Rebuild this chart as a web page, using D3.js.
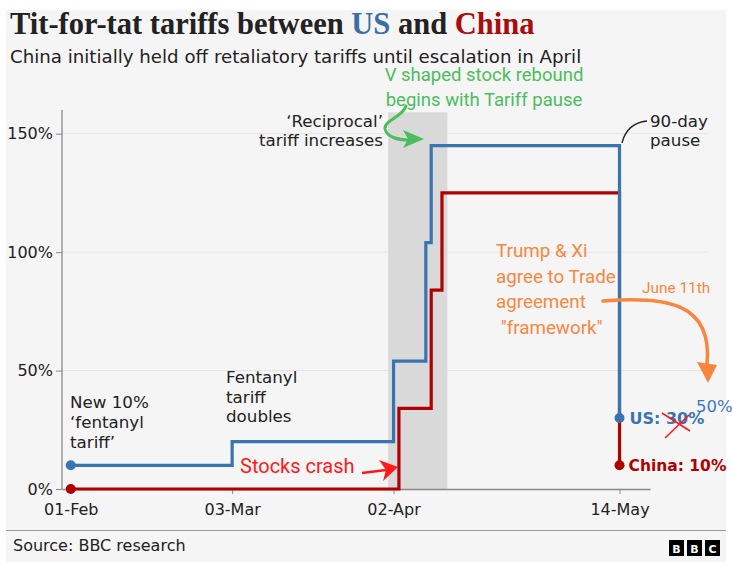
<!DOCTYPE html>
<html>
<head>
<meta charset="utf-8">
<script src="https://cdn.jsdelivr.net/npm/d3@7"></script>
<style>
  html, body { margin: 0; padding: 0; background: #fff; }
  svg { display: block; }
  text { font-family: "DejaVu Sans", sans-serif; fill: #222; }
  .hand { font-family: Roboto, sans-serif; }
</style>
</head>
<body>
<div id="chart"></div>
<script>
// US vs China tariff step lines, BBC style, with hand-drawn notes on top.

const usDates = ['2025-02-01', '2025-03-03', '2025-04-02', '2025-04-08', '2025-04-09', '2025-05-14'];
const usRates = [10, 20, 54, 104, 145, 30];
const cnDates = ['2025-02-01', '2025-04-03', '2025-04-09', '2025-04-11', '2025-05-14'];
const cnRates = [0, 34, 84, 125, 10];
const tickDates = ['2025-02-01', '2025-03-03', '2025-04-02', '2025-05-14'];
const tickRates = [0, 50, 100, 150];
const bandDates = ['2025-04-01', '2025-04-12'];

const BLUE = '#3a74b0';
const RED = '#b00000';
const ORANGE = '#f7873f';
const GREEN = '#4cbd5e';

const parse = d3.utcParse('%Y-%m-%d');
const us = usDates.map((d, i) => ({ date: parse(d), v: usRates[i] }));
const cn = cnDates.map((d, i) => ({ date: parse(d), v: cnRates[i] }));

const W = 732, H = 566;
const svg = d3.select('#chart').append('svg').attr('width', W).attr('height', H);

// grey panel + title block
svg.append('rect').attr('x', 6).attr('y', 10).attr('width', 720).attr('height', 552).attr('fill', '#f5f5f5');

const title = svg.append('text').attr('x', 10).attr('y', 34)
  .style('font-family', '"Liberation Serif", serif').style('font-weight', 'bold').style('font-size', '30.5px');
title.append('tspan').text('Tit-for-tat tariffs between ');
title.append('tspan').style('fill', '#3a6ea8').text('US');
title.append('tspan').text(' and ');
title.append('tspan').style('fill', '#a80c0c').text('China');

svg.append('text').attr('x', 10).attr('y', 63).style('font-size', '18.2px')
  .text('China initially held off retaliatory tariffs until escalation in April');

// scales
const x = d3.scaleUtc()
  .domain([Date.UTC(2025, 0, 30, 9), Date.UTC(2025, 4, 19, 16)])
  .range([62, 650]);
const y = d3.scaleLinear().domain([0, 160]).range([489, 110]);

// gridlines
svg.append('g').selectAll('line').data(tickRates.slice(1)).enter().append('line')
  .attr('x1', 62).attr('x2', 708)
  .attr('y1', (d) => y(d)).attr('y2', (d) => y(d))
  .attr('stroke', '#e4e4e4');

// escalation window
svg.append('rect')
  .attr('x', x(parse(bandDates[0])))
  .attr('width', x(parse(bandDates[1])) - x(parse(bandDates[0])))
  .attr('y', y(159)).attr('height', y(0) - y(159))
  .attr('fill', '#d9d9d9');

// axes
const yAxis = svg.append('g').attr('transform', 'translate(62,0)')
  .call(d3.axisLeft(y).tickValues(tickRates).tickFormat((d) => d + '%').tickSize(6).tickSizeOuter(0));
const xAxis = svg.append('g').attr('transform', `translate(0,${y(0)})`)
  .call(d3.axisBottom(x).tickValues(tickDates.map(parse)).tickFormat(d3.utcFormat('%d-%b')).tickSize(5).tickSizeOuter(0));
[yAxis, xAxis].forEach((a) => {
  a.select('.domain').attr('stroke', '#888').attr('stroke-width', 1.3);
  a.selectAll('.tick line').attr('stroke', '#888');
  a.selectAll('.tick text').style('font-family', '"DejaVu Sans", sans-serif').style('font-size', '16px').attr('fill', '#222');
});
yAxis.selectAll('.tick text').attr('x', -9);
xAxis.selectAll('.tick text').attr('dy', '1.15em');
// keep axis line running up to the top of the plot
yAxis.select('.domain').attr('d', `M0,${y(0)}V110`);

// step lines
const line = d3.line().x((d) => x(d.date)).y((d) => y(d.v)).curve(d3.curveStepAfter);
[[cn, RED], [us, BLUE]].forEach(([rows, col]) => {
  svg.append('path').datum(rows).attr('d', line)
    .attr('fill', 'none').attr('stroke', col).attr('stroke-width', 3.2).attr('stroke-linejoin', 'miter');
});
[[cn, RED], [us, BLUE]].forEach(([rows, col]) => {
  svg.append('g').selectAll('circle').data([rows[0], rows[rows.length - 1]]).enter().append('circle')
    .attr('cx', (d) => x(d.date)).attr('cy', (d) => y(d.v)).attr('r', 5).attr('fill', col);
});

// labels
function block(x0, y0, lines, lh, size, anchor, col, cls) {
  const t = svg.append('text').attr('x', x0).attr('y', y0).attr('text-anchor', anchor || 'start')
    .style('font-size', size + 'px');
  if (col) t.style('fill', col);
  if (cls) t.attr('class', cls);
  lines.forEach((s, i) => t.append('tspan').attr('x', x0).attr('dy', i ? lh : 0).text(s));
  return t;
}

block(70, 408, ['New 10%', '‘fentanyl', 'tariff’'], 20, 16.7);
block(226, 383, ['Fentanyl', 'tariff', 'doubles'], 19.5, 16.7);
block(383, 127, ['‘Reciprocal’', 'tariff increases'], 19, 16.7, 'end');
block(650, 127, ['90-day', 'pause'], 19, 16.7);
block(484, 81, ['V shaped stock rebound', 'begins with Tariff pause'], 25, 18.5, 'middle', GREEN, 'hand');
block(496, 257, ['Trump & Xi', 'agree to Trade', 'agreement', ' "framework"'], 25.5, 18.8, 'start', ORANGE, 'hand')
  .attr('xml:space', 'preserve').style('white-space', 'pre');
block(642, 293, ['June 11th'], 0, 15.4, 'start', ORANGE, 'hand');
block(240, 473, ['Stocks crash'], 0, 20, 'start', '#ff1a1a', 'hand');

// end labels
const last = (rows) => rows[rows.length - 1];
svg.append('text').attr('x', x(last(us).date) + 10).attr('y', y(last(us).v) + 6)
  .style('font-size', '16px').style('font-weight', 'bold').style('fill', BLUE).text('US: 30%');
svg.append('text').attr('x', x(last(cn).date) + 9).attr('y', y(last(cn).v) + 6)
  .style('font-size', '15.5px').style('font-weight', 'bold').style('fill', RED).text('China: 10%');
svg.append('text').attr('x', 696).attr('y', 412).style('font-size', '16.5px').style('fill', '#3d78c2').text('50%');

// red cross over the old rate
svg.append('path').attr('d', 'M662,413L690,431M665,438L689,415')
  .attr('stroke', '#ff1a1a').attr('stroke-width', 1.6).attr('fill', 'none');

// connector for "90-day pause"
svg.append('path').attr('d', 'M622,143Q627,123 647,121')
  .attr('stroke', '#222').attr('stroke-width', 1.4).attr('fill', 'none');

// hand-drawn arrows
svg.append('path').attr('d', 'M406,106C402,118 384,120 385,129C387,137 398,140 408,140')
  .attr('stroke', GREEN).attr('stroke-width', 3).attr('fill', 'none').attr('stroke-linecap', 'round');
svg.append('path').attr('d', 'M403,130L424,139L403,148L408,139Z').attr('fill', GREEN);

svg.append('path').attr('d', 'M362,473C370,472 378,471 386,470')
  .attr('stroke', '#ff1a1a').attr('stroke-width', 2.5).attr('fill', 'none');
svg.append('path').attr('d', 'M379,460L398,467L383,481L386,470Z').attr('fill', '#ff1a1a');

svg.append('path').attr('d', 'M603,301C665,296 713,302 707,364')
  .attr('stroke', ORANGE).attr('stroke-width', 3.5).attr('fill', 'none').attr('stroke-linecap', 'round');
svg.append('path').attr('d', 'M697,362L717,365L708,383Z').attr('fill', ORANGE);

// footer
svg.append('line').attr('x1', 6).attr('x2', 726).attr('y1', 530.5).attr('y2', 530.5).attr('stroke', '#999');
svg.append('text').attr('x', 13).attr('y', 551).style('font-size', '16px').text('Source: BBC research');
const logo = svg.append('g').selectAll('g').data(['B', 'B', 'C']).enter().append('g')
  .attr('transform', (d, i) => `translate(${669 + i * 18},540)`);
logo.append('rect').attr('width', 15).attr('height', 16).attr('fill', '#000');
logo.append('text').attr('x', 7.5).attr('y', 12.5).attr('text-anchor', 'middle')
  .style('font-size', '11px').style('font-weight', 'bold').style('fill', '#fff').text((d) => d);
</script>
</body>
</html>
